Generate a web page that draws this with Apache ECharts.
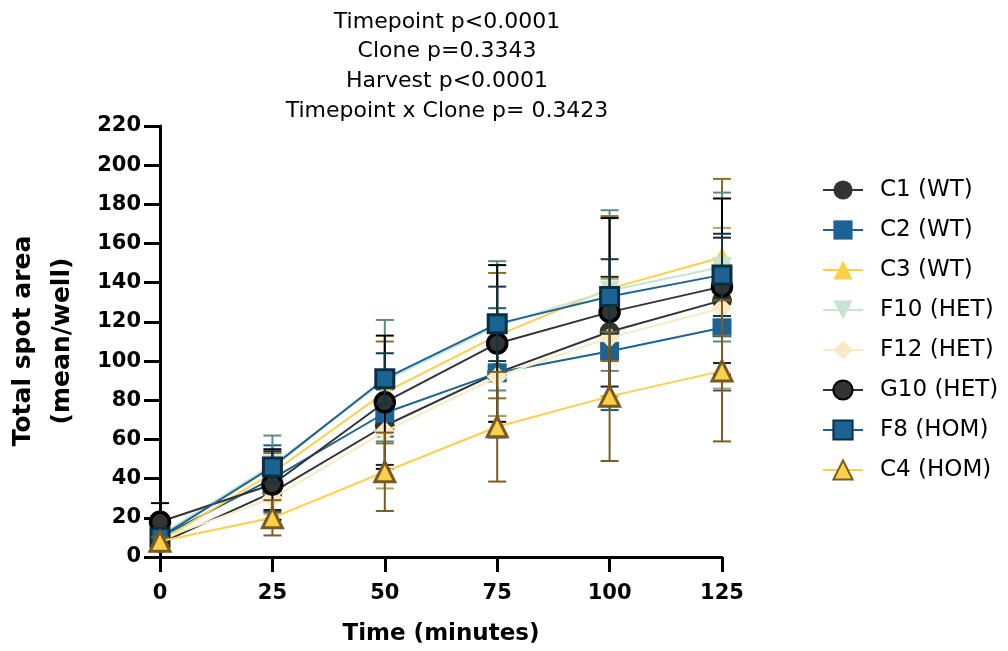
<!DOCTYPE html>
<html>
<head>
<meta charset="utf-8">
<script src="https://cdn.jsdelivr.net/npm/echarts@6/dist/echarts.min.js"></script>
<style>
  html, body { margin: 0; padding: 0; background: #ffffff; }
  #chart { width: 1008px; height: 651px; }
</style>
</head>
<body>
<div id="chart"></div>
<script>
// Time points (minutes)
const times = [0, 25, 50, 75, 100, 125];
const xTicks = [0, 25, 50, 75, 100, 125];
const yTicks = [0, 20, 40, 60, 80, 100, 120, 140, 160, 180, 200, 220];

// Mean total spot area per well
const meanC1  = [7, 33, 67, 94, 115, 131];
const meanC2  = [10, 40, 73.5, 94, 105, 117];
const meanC3  = [8, 43, 84, 113, 137, 153];
const meanF10 = [11, 47, 90, 118, 136, 148];
const meanF12 = [9, 30, 64, 92, 112, 127];
const meanG10 = [18, 37, 79, 109, 125, 138];
const meanF8  = [10, 46, 91, 119, 133, 144];
const meanC4  = [8, 20, 43.5, 66.5, 82, 95];

// Standard deviations
const sdC1  = [3, 9, 20, 22, 28, 32];
const sdC2  = [3, 17, 12, 33, 30, 32];
const sdC3  = [2, 10, 26, 32, 37, 40];
const sdF10 = [3, 15, 31, 33, 41, 38];
const sdF12 = [2, 8, 29, 20, 30, 41];
const sdG10 = [9.5, 18, 34, 40, 48, 45];
const sdF8  = [3, 8, 13, 19, 19, 21];
const sdC4  = [2, 9, 20, 28, 33, 36];

const titleLines = [
  'Timepoint p<0.0001',
  'Clone p=0.3343',
  'Harvest p<0.0001',
  'Timepoint x Clone p= 0.3423'
];

const FONT = 'DejaVu Sans';
const downTriangle = 'path://M0,0 L20,0 L10,17 Z';

const clones = [
  { name: 'C1 (WT)',   mean: meanC1,  sd: sdC1,  symbol: 'circle',     size: 20, fill: '#333333', border: null,      bw: 0,   line: '#333333', err: '#222222' },
  { name: 'C2 (WT)',   mean: meanC2,  sd: sdC2,  symbol: 'rect',       size: 19, fill: '#1c6393', border: null,      bw: 0,   line: '#1c6393', err: '#1d5a80' },
  { name: 'C3 (WT)',   mean: meanC3,  sd: sdC3,  symbol: 'triangle',   size: 21, fill: '#fdd04a', border: null,      bw: 0,   line: '#fdd04a', err: '#8c6d2c' },
  { name: 'F10 (HET)', mean: meanF10, sd: sdF10, symbol: downTriangle, size: 20, fill: '#c7e4d0', border: null,      bw: 0,   line: '#c7e4d0', err: '#5e8a86' },
  { name: 'F12 (HET)', mean: meanF12, sd: sdF12, symbol: 'diamond',    size: 21, fill: '#f8ebc3', border: null,      bw: 0,   line: '#f8ebc3', err: '#b0a660' },
  { name: 'G10 (HET)', mean: meanG10, sd: sdG10, symbol: 'circle',     size: 19, fill: '#333333', border: '#000000', bw: 3.5, line: '#333333', err: '#000000' },
  { name: 'F8 (HOM)',  mean: meanF8,  sd: sdF8,  symbol: 'rect',       size: 18, fill: '#1c6393', border: '#0b2f42', bw: 3,   line: '#1c6393', err: '#0f3646' },
  { name: 'C4 (HOM)',  mean: meanC4,  sd: sdC4,  symbol: 'triangle',   size: 20, fill: '#fdd04a', border: '#7a5a20', bw: 3,   line: '#fdd04a', err: '#7a5c24' }
];

// Vertical SD whiskers with caps, one custom series per clone
function errorBars(c, z) {
  return {
    type: 'custom',
    name: c.name + ' SD',
    z: z,
    silent: true,
    animation: false,
    encode: { x: 0, y: [1, 2] },
    data: times.map((t, i) => [t, c.mean[i] - c.sd[i], c.mean[i] + c.sd[i]]),
    renderItem: function (params, api) {
      const x = api.value(0);
      const lo = api.coord([x, api.value(1)]);
      const hi = api.coord([x, api.value(2)]);
      const w = 9;
      const st = { stroke: c.err, lineWidth: 2 };
      return {
        type: 'group',
        children: [
          { type: 'line', shape: { x1: lo[0], y1: lo[1], x2: hi[0], y2: hi[1] }, style: st },
          { type: 'line', shape: { x1: hi[0] - w, y1: hi[1], x2: hi[0] + w, y2: hi[1] }, style: st },
          { type: 'line', shape: { x1: lo[0] - w, y1: lo[1], x2: lo[0] + w, y2: lo[1] }, style: st }
        ]
      };
    }
  };
}

function meanLine(c, z) {
  const itemStyle = { color: c.fill, opacity: 1 };
  if (c.border) { itemStyle.borderColor = c.border; itemStyle.borderWidth = c.bw; }
  return {
    type: 'line',
    name: c.name,
    z: z,
    animation: false,
    data: times.map((t, i) => [t, c.mean[i]]),
    symbol: c.symbol,
    symbolSize: c.size,
    showAllSymbol: true,
    lineStyle: { color: c.line, width: 2 },
    itemStyle: itemStyle,
    emphasis: { disabled: true }
  };
}

const series = [];
clones.forEach((c, i) => {
  series.push(errorBars(c, 10 + 2 * i));
  series.push(meanLine(c, 11 + 2 * i));
});

const graphics = titleLines.map((t, i) => ({
  type: 'text',
  x: 447,
  y: 22 + i * 29.7,
  style: {
    text: t,
    font: '22px "' + FONT + '"',
    fill: '#000',
    textAlign: 'center',
    textVerticalAlign: 'middle'
  }
}));
graphics.push({
  type: 'text',
  x: 441,
  y: 634,
  style: {
    text: 'Time (minutes)',
    font: 'bold 23px "' + FONT + '"',
    fill: '#000',
    textAlign: 'center',
    textVerticalAlign: 'middle'
  }
});
graphics.push({
  type: 'text',
  x: 43,
  y: 341,
  rotation: Math.PI / 2,
  style: {
    text: 'Total spot area\n(mean/well)',
    font: 'bold 25px "' + FONT + '"',
    lineHeight: 39,
    fill: '#000',
    textAlign: 'center',
    textVerticalAlign: 'middle'
  }
});

const chart = echarts.init(document.getElementById('chart'), null, { renderer: 'canvas' });
chart.setOption({
  backgroundColor: '#ffffff',
  animation: false,
  grid: { left: 160, right: 286, top: 126, bottom: 94, containLabel: false },
  xAxis: {
    type: 'value',
    min: xTicks[0],
    max: xTicks[xTicks.length - 1],
    interval: xTicks[1] - xTicks[0],
    axisLine: { show: true, onZero: false, lineStyle: { color: '#000', width: 3 } },
    axisTick: { show: true, length: 15, lineStyle: { color: '#000', width: 3 } },
    axisLabel: { margin: 26, color: '#000', fontFamily: FONT, fontWeight: 'bold', fontSize: 21 },
    splitLine: { show: false }
  },
  yAxis: {
    type: 'value',
    min: yTicks[0],
    max: yTicks[yTicks.length - 1],
    interval: yTicks[1] - yTicks[0],
    axisLine: { show: true, onZero: false, lineStyle: { color: '#000', width: 3 } },
    axisTick: { show: true, length: 16, lineStyle: { color: '#000', width: 3 } },
    axisLabel: { margin: 19, color: '#000', fontFamily: FONT, fontWeight: 'bold', fontSize: 21 },
    splitLine: { show: false }
  },
  legend: {
    orient: 'vertical',
    left: 817,
    top: 173,
    data: clones.map(c => c.name),
    itemWidth: 40,
    itemHeight: 24,
    itemGap: 16,
    selectedMode: false,
    textStyle: { fontFamily: FONT, fontSize: 23, lineHeight: 24, color: '#000', padding: [0, 0, 0, 12] }
  },
  graphic: graphics,
  series: series
});
</script>
</body>
</html>
